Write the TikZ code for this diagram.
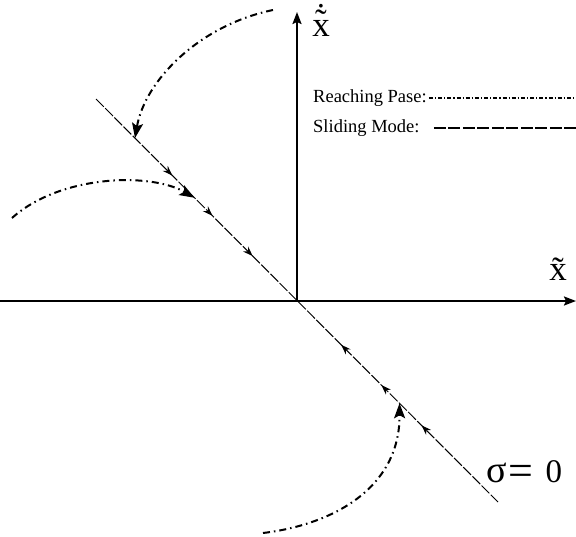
\documentclass[tikz,border=0pt]{standalone}
\usepackage{fontspec}
\setmainfont{Liberation Serif}
\usepackage{tikz}
\usetikzlibrary{arrows.meta, positioning, calc, decorations.markings}

\newcommand\tilx{\ooalign{x\cr\hidewidth\raisebox{-1pt}{\char"02DC}\hidewidth\cr}}
\newcommand\tildotx{\ooalign{x\cr\hidewidth\raisebox{3pt}{\char"02DC}\hidewidth\cr\hidewidth\raisebox{8.5pt}{\char"02D9}\hidewidth\cr}}

\begin{document}
\begin{tikzpicture}[
        x=1pt, y=-1pt,
        axis/.style={line width=2pt, -{Stealth[length=12pt, width=9pt, inset=2pt]}},
        sliding/.style={line width=1pt, dash pattern=on 11pt off 2pt},
        reaching/.style={line width=2pt, dash pattern=on 7pt off 4pt on 1.5pt off 4pt, -{Stealth[length=15pt, width=11pt, inset=3pt]}},
        flow/.style={postaction={decorate}, decoration={markings,
            mark=at position 0.19 with {\arrow{Stealth[length=10pt, width=7pt]}},
            mark=at position 0.29 with {\arrow{Stealth[length=10pt, width=7pt]}},
            mark=at position 0.39 with {\arrow{Stealth[length=10pt, width=7pt]}},
            mark=at position 0.61 with {\arrowreversed{Stealth[length=10pt, width=7pt]}},
            mark=at position 0.71 with {\arrowreversed{Stealth[length=10pt, width=7pt]}},
            mark=at position 0.81 with {\arrowreversed{Stealth[length=10pt, width=7pt]}}}},
        axislabel/.style={font=\fontsize{35}{35}\selectfont, inner sep=0pt, anchor=base},
        legend/.style={font=\fontsize{18.5}{22}\selectfont, inner sep=0pt, anchor=west},
        reachkey/.style={line width=1.3pt, dash pattern=on 4pt off 2pt on 1.2pt off 2pt},
        slidekey/.style={line width=1.3pt, dash pattern=on 12pt off 2.5pt}
    ]
    \useasboundingbox (0,0) rectangle (576,536);

    % axes
    \coordinate (origin) at (297,301);
    \coordinate (xleft) at (0,301);
    \coordinate (xright) at (576,301);
    \coordinate (ytop) at (297,12);
    \draw[axis] (xleft) -- (xright);
    \draw[axis] (origin) -- (ytop);
    \node[axislabel] (xlab) at (558,280) {\tilx};
    \node[axislabel] (ylab) at (321,36) {\tildotx};

    % sliding surface
    \coordinate (stop) at (96,99);
    \coordinate (sbot) at (498,502);
    \draw[sliding, flow] (stop) -- (sbot);
    \node[inner sep=0pt, anchor=base west] (sigma) at (486,482)
        {{\fontsize{38}{38}\selectfont σ}\hspace{2pt}\raisebox{-3pt}{\fontsize{44}{44}\selectfont =}\hspace{12pt}{\fontsize{33}{33}\selectfont 0}};

    % reaching trajectories
    \coordinate (start1) at (273,10);
    \coordinate (start2) at (12,218);
    \coordinate (start3) at (263,533);
    \coordinate (hit1) at ($(stop)!0.097!(sbot)$);
    \coordinate (hit2) at ($(stop)!0.245!(sbot)$);
    \coordinate (hit3) at ($(stop)!0.755!(sbot)$);
    \draw[reaching] (start1) .. controls (200,25) and (145,80) .. (hit1);
    \draw[reaching] (start2) .. controls (60,175) and (150,172) .. (hit2);
    \draw[reaching] (start3) .. controls (330,525) and (400,490) .. (hit3);

    % legend
    \node[legend] (lreach) at (313,98) {Reaching Pase:};
    \node[legend] (lslide) at (313,128) {Sliding Mode:};
    \coordinate (reachend) at (576,98);
    \coordinate (slideend) at (576,128);
    \draw[reachkey] ([xshift=2pt]lreach.east) -- (reachend);
    \draw[slidekey] ([xshift=14pt]lslide.east) -- (slideend);

\end{tikzpicture}
\end{document}
